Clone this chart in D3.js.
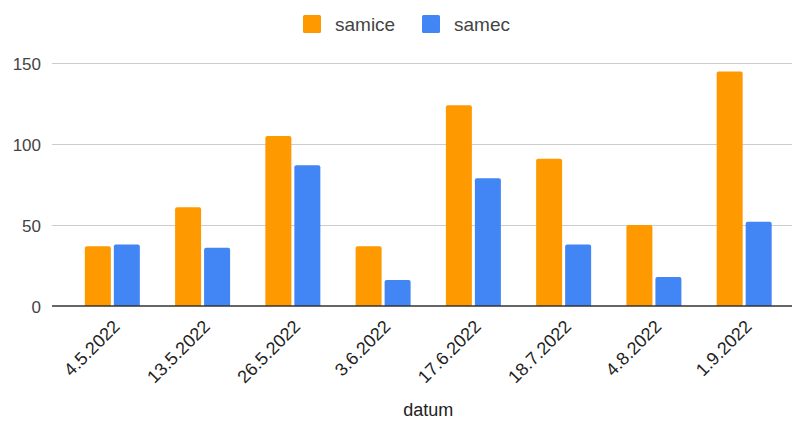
<!DOCTYPE html>
<html>
<head>
<meta charset="utf-8">
<script src="https://cdn.jsdelivr.net/npm/d3@7"></script>
<style>
  html, body { margin: 0; padding: 0; background: #fff; }
  svg { display: block; font-family: Arial, "Liberation Sans", sans-serif; }
</style>
</head>
<body>
<svg id="chart" width="795" height="429"></svg>
<script>
// Sampling dates and counts per sex
const categories = ["4.5.2022", "13.5.2022", "26.5.2022", "3.6.2022", "17.6.2022", "18.7.2022", "4.8.2022", "1.9.2022"];
const samice = [37, 61, 105, 37, 124, 91, 50, 145];
const samec = [38, 36, 87, 16, 79, 38, 18, 52];
const seriesNames = ["samice", "samec"];
const seriesColors = ["#ff9900", "#4285f4"];
const yTicks = [0, 50, 100, 150];
const xTitle = "datum";

const svg = d3.select("#chart");

const plot = { left: 52, right: 792, top: 40, bottom: 306 };

const x = d3.scaleBand()
  .domain(categories)
  .range([67.2, 789.3])
  .paddingInner(0)
  .paddingOuter(0);

const groupWidth = 55;
const gap = 3;
const barW = (groupWidth - gap) / 2;

const y = d3.scaleLinear()
  .domain([0, 150])
  .range([plot.bottom, 63.3]);

// Horizontal gridlines
svg.append("g")
  .selectAll("line")
  .data(yTicks.filter(d => d !== 0))
  .join("line")
  .attr("x1", plot.left)
  .attr("x2", plot.right)
  .attr("y1", d => Math.round(y(d)) + 0.5)
  .attr("y2", d => Math.round(y(d)) + 0.5)
  .attr("stroke", "#cccccc")
  .attr("stroke-width", 1);

// Y-axis labels
const yAxis = d3.axisLeft(y).tickValues(yTicks).tickSize(0).tickPadding(0);
const yg = svg.append("g").attr("transform", `translate(41,0)`).call(yAxis);
yg.select(".domain").remove();
yg.selectAll("text")
  .attr("fill", "#444")
  .attr("font-size", "17px")
  .attr("font-family", "Arial, 'Liberation Sans', sans-serif")
  .attr("dy", "0.36em");

// Bars with slightly rounded tops
function topRoundedRect(x0, y0, w, h, r) {
  r = Math.min(r, h, w / 2);
  return `M${x0},${y0 + h}V${y0 + r}Q${x0},${y0} ${x0 + r},${y0}H${x0 + w - r}Q${x0 + w},${y0} ${x0 + w},${y0 + r}V${y0 + h}Z`;
}

const series = [samice, samec];
series.forEach((vals, si) => {
  svg.append("g")
    .selectAll("path")
    .data(categories.map((c, i) => ({ c, v: vals[i] })))
    .join("path")
    .attr("d", d => {
      const cx = x(d.c) + x.bandwidth() / 2;
      const x0 = si === 0 ? cx - groupWidth / 2 : cx + gap / 2;
      return topRoundedRect(x0, y(d.v), barW, y(0) - y(d.v), 2);
    })
    .attr("fill", seriesColors[si]);
});

// Baseline
svg.append("line")
  .attr("x1", plot.left)
  .attr("x2", plot.right)
  .attr("y1", y(0))
  .attr("y2", y(0))
  .attr("stroke", "#333")
  .attr("stroke-width", 1.5);

// X-axis labels, rotated
const xg = svg.append("g");
xg.selectAll("text")
  .data(categories)
  .join("text")
  .attr("transform", d => `translate(${x(d) + x.bandwidth() / 2 + 4},${plot.bottom + 17}) rotate(-45)`)
  .attr("text-anchor", "end")
  .attr("dy", "0.36em")
  .attr("font-size", "18px")
  .attr("fill", "#222")
  .text(d => d);

// X-axis title
svg.append("text")
  .attr("x", (x.range()[0] + x.range()[1]) / 2)
  .attr("y", 416)
  .attr("text-anchor", "middle")
  .attr("font-size", "18px")
  .attr("fill", "#222")
  .text(xTitle);

// Legend
const legend = svg.append("g");
const legendItems = [
  { name: seriesNames[0], color: seriesColors[0], x: 303 },
  { name: seriesNames[1], color: seriesColors[1], x: 422 }
];
legendItems.forEach(it => {
  legend.append("rect")
    .attr("x", it.x)
    .attr("y", 15)
    .attr("width", 18)
    .attr("height", 18)
    .attr("rx", 1.5)
    .attr("fill", it.color);
  legend.append("text")
    .attr("x", it.x + 32)
    .attr("y", 24)
    .attr("dy", "0.36em")
    .attr("font-size", "19px")
    .attr("fill", "#444")
    .text(it.name);
});
</script>
</body>
</html>
